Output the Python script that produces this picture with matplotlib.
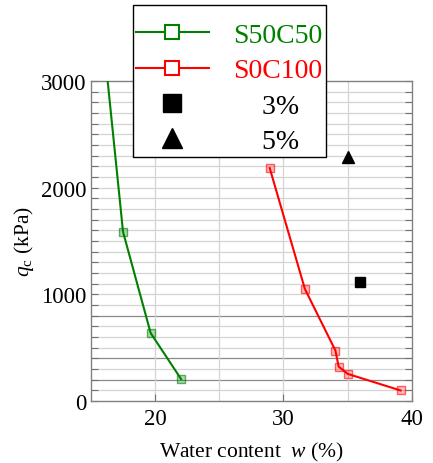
import matplotlib
matplotlib.use("Agg")
import matplotlib.pyplot as plt
from matplotlib.lines import Line2D
import numpy as np

plt.rcParams['font.family'] = ['Liberation Serif', 'DejaVu Serif']
plt.rcParams['mathtext.fontset'] = 'custom'
plt.rcParams['mathtext.rm'] = 'Liberation Serif'
plt.rcParams['mathtext.it'] = 'Liberation Serif:italic'

# Data
s50_w = [16.05, 17.5, 19.65, 22.03]
s50_q = [3300, 1587, 637, 203]
s0_w = [28.93, 31.67, 34.05, 34.3, 35.0, 39.13]
s0_q = [2184, 1050, 472, 322, 253, 97]
p3_w = [35.98]
p3_q = [1112]
p5_w = [35.0]
p5_q = [2287]

x_ticks = [20, 30, 40]
y_ticks = [0, 1000, 2000, 3000]

GREEN = '#008000'
RED = '#ff0000'

fig = plt.figure(figsize=(4.33, 4.64), dpi=100)
ax = fig.add_axes([0.210, 0.134, 0.741, 0.689])

ax.set_xlim(15, 40)
ax.set_ylim(0, 3000)

# grid
for y in np.arange(100, 3000, 100):
    c = '#8a8a8a' if y in (200, 400, 800) else '#d4d4d4'
    ax.axhline(y, color=c, lw=0.9, zorder=0)
for x in [20, 25, 30, 35]:
    ax.axvline(x, color='#d4d4d4', lw=0.9, zorder=0)

ax.plot(s50_w, s50_q, color=GREEN, lw=1.5, marker='s', ms=6,
        mfc=(0, 0.5, 0, 0.3), mec=(0, 0.5, 0, 0.6), mew=1.0, clip_on=True, zorder=3)
ax.plot(s0_w, s0_q, color=RED, lw=1.5, marker='s', ms=6,
        mfc=(1, 0, 0, 0.25), mec=(1, 0, 0, 0.6), mew=1.0, zorder=3)
ax.plot(p3_w, p3_q, ls='none', marker='s', ms=7, color='black', zorder=3)
ax.plot(p5_w, p5_q, ls='none', marker='^', ms=8, color='black', zorder=3)

ax.set_xticks(x_ticks)
ax.set_yticks(y_ticks)
ax.set_yticks(np.arange(0, 3001, 100), minor=True)
ax.tick_params(axis='both', which='both', direction='in', right=True,
               labelsize=16.5, color='#707070', width=0.8)
ax.tick_params(axis='y', which='major', length=5, pad=3)
ax.tick_params(axis='y', which='minor', length=5)
ax.tick_params(axis='x', which='major', length=5, pad=5)
for s in ax.spines.values():
    s.set_color('#808080')
    s.set_linewidth(1.0)

ax.set_xlabel(r'Water content  $\mathit{w}$ (%)', fontsize=15.5, labelpad=8)
ax.set_ylabel(r'$\mathit{q}_{\rm c}$ (kPa)', fontsize=15.5, labelpad=4)

handles = [
    Line2D([], [], color=GREEN, lw=1.5, marker='s', ms=10, mfc='white', mec=GREEN, mew=1.5),
    Line2D([], [], color=RED, lw=1.5, marker='s', ms=10, mfc='white', mec=RED, mew=1.5),
    Line2D([], [], ls='none', marker='s', ms=13, color='black'),
    Line2D([], [], ls='none', marker='^', ms=15, color='black'),
]
labels = ['S50C50', 'S0C100', '    3%', '    5%']
leg = fig.legend(handles, labels, loc='upper left',
                 bbox_to_anchor=(133 / 433, 1 - 6 / 464),
                 fontsize=20, frameon=True, fancybox=False, edgecolor='black',
                 framealpha=1, handlelength=2.6, handletextpad=0.9,
                 labelspacing=0.36, borderpad=0.12, borderaxespad=0,
                 title=' ', title_fontsize=2)
leg.get_frame().set_linewidth(1.0)
leg.set_zorder(5)
for t, c in zip(leg.get_texts(), [GREEN, RED, 'black', 'black']):
    t.set_color(c)

fig.savefig('out.png', dpi=100)
